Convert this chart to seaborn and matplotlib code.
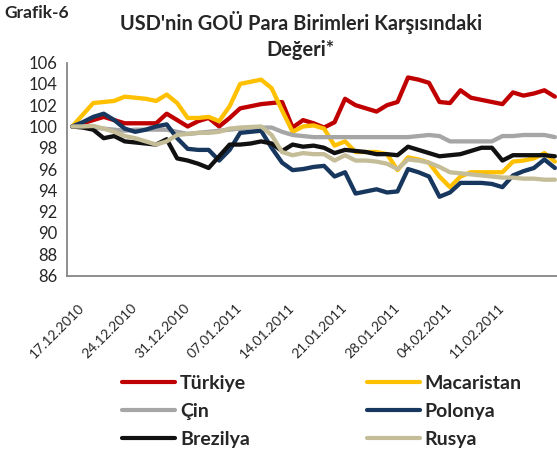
import matplotlib
matplotlib.use('Agg')
import matplotlib.pyplot as plt
import matplotlib.transforms as mtransforms
from matplotlib.lines import Line2D
import seaborn as sns
import numpy as np
import pandas as pd

# business days, labels every 5th day
dates = pd.bdate_range('2010-12-17', periods=47)

turkiye = [100.0, 100.3, 100.6, 100.9, 100.6, 100.3, 100.3, 100.3, 100.3, 101.2,
           100.6, 100.0, 100.5, 100.8, 100.0, 100.8, 101.7, 101.9, 102.1, 102.2,
           102.3, 99.9, 100.6, 100.3, 99.9, 100.4, 102.6, 102.0, 101.7, 101.4,
           102.0, 102.3, 104.6, 104.4, 104.1, 102.3, 102.2, 103.4, 102.7, 102.5,
           102.3, 102.1, 103.2, 102.9, 103.1, 103.4, 102.8]
macaristan = [100.0, 101.1, 102.2, 102.3, 102.4, 102.8, 102.7, 102.6, 102.4, 103.0,
              102.2, 100.8, 100.8, 100.9, 100.5, 101.9, 104.0, 104.2, 104.4, 103.6,
              101.5, 99.5, 100.0, 100.1, 99.8, 98.2, 98.6, 97.6, 97.6, 97.6,
              97.4, 95.9, 97.1, 96.9, 96.6, 95.3, 94.3, 95.3, 95.7, 95.7,
              95.7, 95.7, 96.7, 96.8, 97.0, 97.5, 96.7]
cin = [100.0, 100.0, 99.9, 99.8, 99.7, 99.6, 99.7, 99.7, 99.7, 99.7,
       99.5, 99.3, 99.4, 99.5, 99.6, 99.7, 99.8, 99.9, 99.9, 99.9,
       99.5, 99.2, 99.1, 99.0, 99.0, 99.0, 99.0, 99.0, 99.0, 99.0,
       99.0, 99.0, 99.0, 99.1, 99.2, 99.1, 98.6, 98.6, 98.6, 98.6,
       98.6, 99.1, 99.1, 99.2, 99.2, 99.2, 99.0]
polonya = [100.0, 100.4, 100.9, 101.2, 100.6, 99.8, 99.5, 99.7, 100.0, 100.2,
           98.9, 97.9, 97.8, 97.8, 96.8, 97.8, 99.4, 99.5, 99.6, 98.0,
           96.6, 95.9, 96.0, 96.2, 96.3, 95.3, 95.7, 93.7, 93.9, 94.1,
           93.8, 93.9, 96.0, 95.7, 95.3, 93.4, 93.8, 94.7, 94.7, 94.7,
           94.6, 94.3, 95.4, 95.8, 96.1, 96.9, 96.1]
brezilya = [100.0, 99.9, 99.7, 98.9, 99.1, 98.6, 98.5, 98.4, 98.3, 98.8,
            97.0, 96.8, 96.5, 96.1, 97.2, 98.3, 98.3, 98.4, 98.6, 98.4,
            97.7, 98.3, 98.1, 98.2, 98.0, 97.5, 97.8, 97.7, 97.6, 97.4,
            97.4, 97.3, 98.1, 97.8, 97.5, 97.2, 97.3, 97.4, 97.7, 98.0,
            98.0, 96.8, 97.3, 97.3, 97.3, 97.3, 97.2]
rusya = [100.0, 100.0, 100.05, 99.8, 99.5, 99.1, 98.9, 98.6, 98.3, 98.6,
         99.2, 99.3, 99.4, 99.4, 99.5, 99.8, 99.9, 99.95, 100.0, 99.2,
         97.6, 97.3, 97.5, 97.4, 97.4, 96.8, 97.3, 96.8, 96.8, 96.7,
         96.5, 96.0, 96.9, 96.8, 96.6, 96.2, 95.7, 95.6, 95.5, 95.4,
         95.3, 95.2, 95.2, 95.1, 95.1, 95.0, 95.0]

series = {
    'Türkiye': turkiye,
    'Macaristan': macaristan,
    'Çin': cin,
    'Polonya': polonya,
    'Brezilya': brezilya,
    'Rusya': rusya,
}
colors = {
    'Türkiye': '#C00000',
    'Macaristan': '#FFC000',
    'Çin': '#A6A6A6',
    'Polonya': '#17375E',
    'Brezilya': '#111111',
    'Rusya': '#C4BD97',
}

sns.set_style("white")
plt.rcParams['font.family'] = ['Lato', 'DejaVu Sans']

df = pd.DataFrame(series)
df['idx'] = np.arange(len(dates))
df_long = df.melt(id_vars='idx', var_name='ulke', value_name='deger')

fig = plt.figure(figsize=(5.57, 4.53), dpi=100)
ax = fig.add_axes([0.1203, 0.3918, 0.8797, 0.470])

sns.lineplot(data=df_long, x='idx', y='deger', hue='ulke', palette=colors,
             hue_order=list(series.keys()), linewidth=3.1, legend=False, ax=ax)
for ln in ax.get_lines():
    ln.set_solid_joinstyle('round')

ax.set_xlim(-0.5, 46.2)
ax.set_ylim(86, 106)
ax.set_yticks(np.arange(86, 107, 2))
ax.tick_params(axis='y', labelsize=12, length=4, color='#868686', pad=3)

lab_pos = np.arange(0, len(dates), 5)[:9]
ax.set_xticks(lab_pos)
ax.set_xticklabels([dates[i].strftime('%d.%m.%Y') for i in lab_pos],
                   rotation=45, ha='right', rotation_mode='anchor', fontsize=10)
ax.set_xticks(lab_pos - 0.5, minor=True)
ax.tick_params(axis='x', which='major', length=0, pad=19)
ax.tick_params(axis='x', which='minor', length=4, color='#868686')
offset = mtransforms.ScaledTranslation(6 / 100, 0, fig.dpi_scale_trans)
for lbl in ax.get_xticklabels():
    lbl.set_transform(lbl.get_transform() + offset)

ax.set_xlabel('')
ax.set_ylabel('')
for s in ['top', 'right']:
    ax.spines[s].set_visible(False)
for s in ['left', 'bottom']:
    ax.spines[s].set_color('#868686')
    ax.spines[s].set_linewidth(1.3)
ax.grid(False)

fig.text(0.008, 0.972, 'Grafik-6', fontsize=12.5, fontweight='bold', va='center')
fig.text(0.54, 0.951, "USD'nin GOÜ Para Birimleri Karşısındaki",
         fontsize=14.4, fontweight='bold', ha='center', va='center')
fig.text(0.54, 0.889, 'Değeri*', fontsize=14.4, fontweight='bold',
         ha='center', va='center')

# legend: row-major order in 2 columns
order = ['Türkiye', 'Çin', 'Brezilya', 'Macaristan', 'Polonya', 'Rusya']
handles = [Line2D([0], [0], color=colors[k], linewidth=3) for k in order]
leg = fig.legend(handles, order, ncol=2, loc='upper left',
                 bbox_to_anchor=(122 / 557, 0.172), borderaxespad=0, borderpad=0,
                 frameon=False, prop={'weight': 'bold', 'size': 14},
                 handlelength=2.73, handletextpad=0.26, columnspacing=6.0,
                 labelspacing=0.56)

fig.savefig('out.png', dpi=100)
